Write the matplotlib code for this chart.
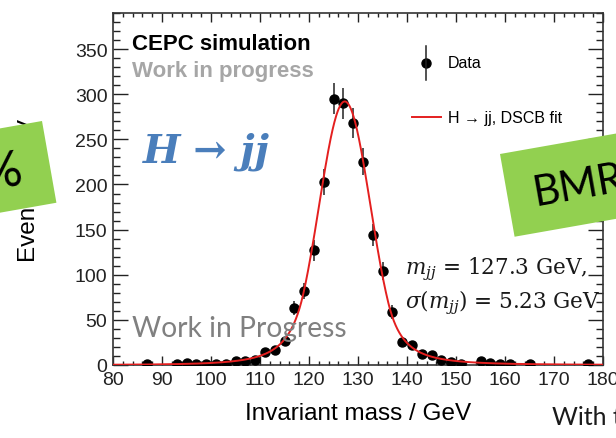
import numpy as np
import matplotlib
matplotlib.use("Agg")
import matplotlib.pyplot as plt
from matplotlib.ticker import MultipleLocator
from matplotlib.patches import Polygon

plt.rcParams['font.family'] = 'Liberation Sans'
plt.rcParams['mathtext.fontset'] = 'dejavuserif'

# binned data (bin centres in GeV, events per bin)
mass = [87, 93, 95, 97, 99, 101, 103, 105, 107, 109, 111, 113, 115, 117, 119, 121,
        123, 125, 127, 129, 131, 133, 135, 137, 139, 141, 143, 145, 147, 149, 151,
        155, 157, 159, 161, 165, 177]
counts = [1, 1, 2, 1, 1, 1, 1, 4, 4, 5, 14, 17, 27, 63, 82, 127,
          203, 295, 290, 268, 225, 144, 104, 59, 25, 22, 12, 11, 6, 3, 1,
          4, 2, 1, 1, 1, 1]

# DSCB fit parameters
fit_mean = 127.3
fit_sigma = 5.23
fit_peak = 292
alpha_lo, n_lo = 1.6, 4.0
alpha_hi, n_hi = 1.7, 3.0

x_ticks = [80, 90, 100, 110, 120, 130, 140, 150, 160, 170, 180]
y_ticks = [0, 50, 100, 150, 200, 250, 300, 350]


def dscb(x):
    z = (x - fit_mean) / fit_sigma
    y = np.exp(-0.5 * z ** 2)
    lo = z < -alpha_lo
    a_lo = (n_lo / alpha_lo) ** n_lo * np.exp(-0.5 * alpha_lo ** 2)
    y[lo] = a_lo * (n_lo / alpha_lo - alpha_lo - z[lo]) ** (-n_lo)
    hi = z > alpha_hi
    a_hi = (n_hi / alpha_hi) ** n_hi * np.exp(-0.5 * alpha_hi ** 2)
    y[hi] = a_hi * (n_hi / alpha_hi - alpha_hi + z[hi]) ** (-n_hi)
    return fit_peak * y


fig = plt.figure(figsize=(6.16, 4.39), dpi=100)
ax = fig.add_axes([113 / 616, 1 - 366 / 439, 490 / 616, 352 / 439])

counts_arr = np.array(counts, dtype=float)
ax.errorbar(mass, counts_arr, yerr=np.sqrt(counts_arr), fmt='o', color='black',
            ms=6.5, elinewidth=1.1, ecolor='#222222', capsize=0, zorder=3)
xx = np.linspace(80, 180, 800)
ax.plot(xx, dscb(xx), color='#e41f1f', lw=1.4, zorder=4)

ax.set_xlim(80, 180)
ax.set_ylim(0, 390)
ax.set_xticks(x_ticks)
ax.set_yticks(y_ticks)
ax.xaxis.set_minor_locator(MultipleLocator(2))
ax.yaxis.set_minor_locator(MultipleLocator(10))
ax.tick_params(axis='both', which='both', direction='in', top=True, right=True,
               labelsize=14, colors='#222222', width=1.0)
ax.tick_params(axis='x', which='major', length=6.5, pad=4)
ax.tick_params(axis='x', which='minor', length=3.2)
ax.tick_params(axis='y', which='major', length=11, pad=4)
ax.tick_params(axis='y', which='minor', length=5)
for s in ax.spines.values():
    s.set_linewidth(1.2)
    s.set_color('#333333')

ax.set_xlabel('Invariant mass / GeV', fontsize=17.5, va='center')
ax.xaxis.set_label_coords(0.5, (366 - 414) / 352)
ax.set_ylabel('Events / GeV', fontsize=17.5, va='center')
ax.yaxis.set_label_coords((29 - 113) / 490, 0.5)

# labels inside the frame
ax.text(0.0388, 0.8977, 'CEPC simulation', transform=ax.transAxes,
        fontsize=16, fontweight='bold', color='black')
ax.text(0.0388, 0.822, 'Work in progress', transform=ax.transAxes,
        fontsize=16, fontweight='bold', color='#a6a6a6')
ax.text(0.0612, 0.5795, 'H \u2192 jj', transform=ax.transAxes, family='DejaVu Serif',
        style='italic', fontweight='bold', fontsize=28.5, color='#4a7ebb')
ax.text(0.596, 0.261, r'$m_{jj}$ = 127.3 GeV,', transform=ax.transAxes,
        family='DejaVu Serif', fontsize=15.5, color='#1a1a1a')
ax.text(0.596, 0.165, r'$\sigma\left(m_{jj}\right)$ = 5.23 GeV', transform=ax.transAxes,
        family='DejaVu Serif', fontsize=15.5, color='#1a1a1a')
ax.text(0.0388, 0.083, 'Work in Progress', transform=ax.transAxes, family='Lato',
        fontsize=20.3, color='#808080', zorder=6)

# legend drawn by hand, ROOT style
ax.plot([0.639], [0.858], 'o', color='black', ms=6.5, transform=ax.transAxes)
ax.plot([0.639, 0.639], [0.858 - 0.0483, 0.858 + 0.0483], color='#222222', lw=1.1,
        transform=ax.transAxes)
ax.text(0.683, 0.858, 'Data', transform=ax.transAxes, fontsize=11.5, va='center')
ax.plot([0.610, 0.669], [0.7045, 0.7045], color='#e41f1f', lw=1.4, transform=ax.transAxes)
ax.text(0.683, 0.7045, 'H \u2192 jj, DSCB fit', transform=ax.transAxes, fontsize=11.5,
        va='center')

# slide overlay: green stickers and trailing text
ov = fig.add_axes([0, 0, 1, 1], zorder=10)
ov.set_xlim(0, 616)
ov.set_ylim(439, 0)
ov.axis('off')
ov.patch.set_alpha(0)

th = np.deg2rad(10)
u = np.array([np.cos(th), -np.sin(th)])
d = np.array([np.sin(th), np.cos(th)])


def sticker(top_left, w, h, label, off, size, ha):
    p0 = np.array(top_left, dtype=float)
    pts = [p0, p0 + w * u, p0 + w * u + h * d, p0 + h * d]
    ov.add_patch(Polygon(pts, closed=True, color='#92d050', lw=0))
    c = p0 + off[0] * u + off[1] * d
    ov.text(c[0], c[1], label, family='Lato', fontsize=size, color='black',
            rotation=10, rotation_mode='anchor', ha=ha, va='center')


sticker((500, 155), 200, 84, 'BMR', (26, 44), 30, 'left')
sticker(np.array([42, 122]) - 150 * u, 150, 83, '%', (122, 44), 36, 'right')

ov.text(552, 418, 'With the', family='Lato', fontsize=18, color='#1a1a1a', va='center')

fig.savefig('out.png', dpi=100)
